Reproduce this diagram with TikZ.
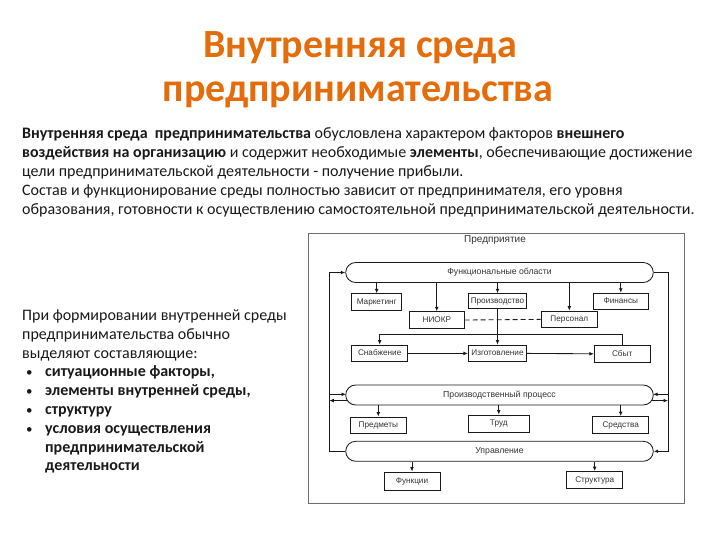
\documentclass[tikz,border=0pt]{standalone}
\usepackage{fontspec}
\setmainfont{Carlito}
\newfontfamily\diag{Liberation Sans}
\usetikzlibrary{arrows.meta}
\definecolor{titleor}{RGB}{228,108,10}
\definecolor{bodytxt}{RGB}{25,25,25}
\definecolor{frm}{RGB}{110,110,110}
\begin{document}
\begin{tikzpicture}[x=1pt,y=-1pt,
  box/.style={draw=black!90, line width=0.85pt, inner sep=0pt, font=\diag\fontsize{8.2}{9}\selectfont, text=black!80, text height=6pt, text depth=1.6pt},
  capsule/.style={box, font=\diag\fontsize{8.7}{10}\selectfont, rounded corners=10pt, minimum width=307.6pt, minimum height=20pt},
  arr/.style={line width=0.85pt, draw=black!90, -{Latex[length=4.5pt,width=3.8pt]}},
  ln/.style={line width=0.85pt, draw=black!90},
  body/.style={anchor=base west, inner sep=0pt, font=\fontsize{16}{19}\selectfont, text=bodytxt},
  bul/.style={body, font=\fontsize{13}{19}\selectfont},
  ttl/.style={anchor=base, inner sep=0pt, font=\bfseries\fontsize{40}{44}\selectfont, text=titleor},
]
\useasboundingbox (0,0) rectangle (720,540);
% title
\node[ttl] (t1) at (360,57.3) {Внутренняя среда};
\node[ttl] (t2) at (358,101.7) {предпринимательства};
% body text
\node[body] (b1) at (22,139) {\textbf{Внутренняя среда\ \ предпринимательства} обусловлена характером факторов \textbf{внешнего}};
\node[body] (b2) at (22,158) {\textbf{воздействия на организацию} и содержит необходимые \textbf{элементы}, обеспечивающие достижение};
\node[body] (b3) at (22,177) {цели предпринимательской деятельности - получение прибыли.};
\node[body] (b4) at (22,196) {Состав и функционирование среды полностью зависит от предпринимателя, его уровня};
\node[body] (b5) at (22,214.5) {образования, готовности к осуществлению самостоятельной предпринимательской деятельности.};
% left text
\node[body] (l1) at (22,320.5) {При формировании внутренней среды};
\node[body] (l2) at (22,339.3) {предпринимательства обычно};
\node[body] (l3) at (22,358.1) {выделяют составляющие:};
\node[bul] (u1) at (26,376.9) {•};
\node[bul] (u2) at (26,395.7) {•};
\node[bul] (u3) at (26,414.5) {•};
\node[bul] (u4) at (26,433.3) {•};
\node[body] (l4) at (45,376.9) {\textbf{ситуационные факторы,}};
\node[body] (l5) at (45,395.7) {\textbf{элементы внутренней среды,}};
\node[body] (l6) at (45,414.5) {\textbf{структуру}};
\node[body] (l7) at (45,433.3) {\textbf{условия осуществления}};
\node[body] (l8) at (45,452.1) {\textbf{предпринимательской}};
\node[body] (l9) at (45,470.9) {\textbf{деятельности}};
% diagram frame
\draw[draw=frm, line width=0.8pt] (308,233) rectangle (684,503);
\node[font=\diag\fontsize{10}{11}\selectfont, text=black!80, inner sep=0pt] (ent) at (495,240.5) {Предприятие};
% capsules
\node[capsule] (fo) at (499.5,272.5) {Функциональные области};
\node[capsule] (pp) at (499.5,395) {Производственный процесс};
\node[capsule] (upr) at (499.5,451.3) {Управление};
% boxes
\node[box, minimum width=50pt, minimum height=16.5pt] (mark) at (376.7,302) {Маркетинг};
\node[box, minimum width=58.4pt, minimum height=15pt] (proizv) at (497.5,301.2) {Производство};
\node[box, minimum width=55pt, minimum height=16pt] (fin) at (620.8,301.2) {Финансы};
\node[box, minimum width=55pt, minimum height=16.6pt] (niokr) at (436.8,320) {НИОКР};
\node[box, minimum width=56.7pt, minimum height=16.6pt] (pers) at (569.3,319.4) {Персонал};
\node[box, minimum width=56pt, minimum height=16.7pt] (snab) at (379.7,353.4) {Снабжение};
\node[box, minimum width=58.4pt, minimum height=16.7pt] (izg) at (497.5,353.4) {Изготовление};
\node[box, minimum width=55.7pt, minimum height=17.5pt] (sbyt) at (622.2,353.8) {Сбыт};
\node[box, minimum width=55.3pt, minimum height=16pt] (pred) at (378.3,425) {Предметы};
\node[box, minimum width=61pt, minimum height=17.3pt] (trud) at (498.8,423.6) {Труд};
\node[box, minimum width=55.6pt, minimum height=16.6pt] (sred) at (620.7,424.8) {Средства};
\node[box, minimum width=56pt, minimum height=18pt] (func) at (412,481) {Функции};
\node[box, minimum width=55.6pt, minimum height=17pt] (strc) at (594.7,480) {Структура};
% arrows from functional areas
\draw[arr] (mark.north |- fo.south) -- (mark.north);
\draw[arr] (niokr.north |- fo.south) -- (niokr.north);
\draw[arr] (proizv.north |- fo.south) -- (proizv.north);
\draw[arr] (pers.north |- fo.south) -- (pers.north);
\draw[arr] (fin.north |- fo.south) -- (fin.north);
\draw[arr] (proizv.south) -- (izg.north);
\draw[ln, dash pattern=on 5pt off 3pt] (niokr.east) -- (pers.west);
\draw[arr] (snab.east) -- (izg.west);
\draw[arr] (izg.east) -- (sbyt.west);
\coordinate (fbk) at (0,334);
\draw[arr] (sbyt.north) -- (sbyt.north |- fbk) -- (snab.north |- fbk) -- (snab.north);
% process and management
\draw[arr] (pred.north |- pp.south) -- (pred.north);
\draw[arr] (trud.north |- pp.south) -- (trud.north);
\draw[arr] (sred.north |- pp.south) -- (sred.north);
\draw[arr] (func.north |- upr.south) -- (func.north);
\draw[arr] (strc.north |- upr.south) -- (strc.north);
% outer loop
\coordinate (xl) at (329.3,0);
\coordinate (xr) at (668,0);
\draw[arr] (upr.west) -- (upr.west -| xl) -- (fo.west -| xl) -- (fo.west);
\draw[arr] (fo.east) -- (fo.east -| xr) -- (upr.east -| xr) -- (upr.east);
\coordinate (pin) at (346,394.3);
\coordinate (pout) at (347.5,400.6);
\coordinate (qin) at (653,394.3);
\coordinate (qout) at (651.5,400.6);
\draw[arr] (pin -| xl) -- (pin);
\draw[arr] (pout) -- (pout -| xl);
\draw[arr] (qin -| xr) -- (qin);
\draw[arr] (qout) -- (qout -| xr);
\end{tikzpicture}
\end{document}
